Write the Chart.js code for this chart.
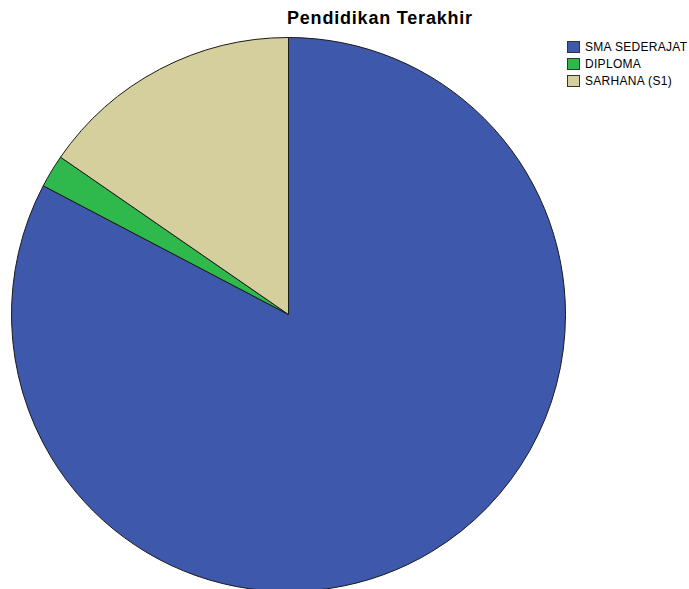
<!DOCTYPE html>
<html lang="id">
<head>
    <meta charset="UTF-8" />
    <title>Pendidikan Terakhir</title>
    <style>
        html, body { margin: 0; padding: 0; background: #fff; overflow: hidden; }
        .wrap { position: relative; width: 689px; height: 589px; overflow: hidden; font-family: "Liberation Sans", Arial, sans-serif; }
        .title { position: absolute; left: 287px; top: 8px; font-size: 18px; letter-spacing: 0.8px; font-weight: bold; color: #000; white-space: nowrap; }
        .pie-box { position: absolute; left: 11px; top: 37px; width: 555px; height: 555px; }
        .legend { position: absolute; left: 567px; top: 40px; font-size: 12px; letter-spacing: 0.3px; color: #000; }
        .legend div { height: 17px; line-height: 14px; white-space: nowrap; }
        .legend span.box { display: inline-block; width: 13px; height: 12px; border: 1px solid #333; vertical-align: -2px; margin-right: 5px; box-sizing: border-box; }
    </style>
</head>
<body>
    <div class="wrap">
        <div class="title">Pendidikan Terakhir</div>
        <div class="pie-box"><canvas id="pieChart" width="555" height="555"></canvas></div>
        <div class="legend" id="legend"></div>
    </div>

    <script src="https://cdn.jsdelivr.net/npm/chart.js"></script>
    <script>
        // jumlah responden per kategori
        const categories = ['SMA SEDERAJAT', 'DIPLOMA', 'SARHANA (S1)'];
        const counts = [43, 1, 8];
        const colors = ['#3e58ab', '#2fb84b', '#d4cf9c'];

        // legend manual supaya posisinya sama seperti gambar
        let html = '';
        categories.forEach((c, i) => {
            html += `<div><span class="box" style="background:${colors[i]}"></span>${c}</div>`;
        });
        document.getElementById('legend').innerHTML = html;

        new Chart(document.getElementById('pieChart'), {
            type: 'pie',
            data: {
                labels: categories,
                datasets: [{
                    data: counts,
                    backgroundColor: colors,
                    borderColor: '#1a1a1a',
                    borderWidth: 1
                }]
            },
            options: {
                responsive: false,
                animation: false,
                layout: { padding: 0 },
                plugins: {
                    legend: { display: false },
                    title: { display: false },
                    tooltip: { enabled: false }
                }
            }
        });
    </script>
</body>
</html>
